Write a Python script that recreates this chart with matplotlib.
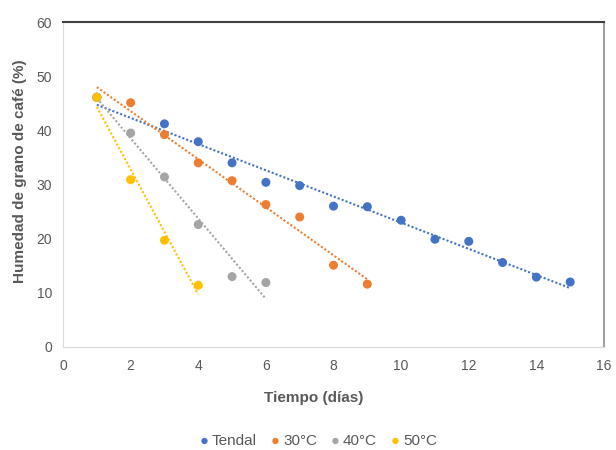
import numpy as np
import matplotlib
matplotlib.use('Agg')
import matplotlib.pyplot as plt

plt.rcParams['font.family'] = ['Liberation Sans', 'DejaVu Sans']

# Datos
dias_tendal = [1, 3, 4, 5, 6, 7, 8, 9, 10, 11, 12, 13, 14, 15]
hum_tendal = [46.1, 41.2, 37.9, 34.0, 30.4, 29.8, 26.0, 25.9, 23.4, 19.9, 19.5, 15.6, 12.9, 12.0]

dias_30 = [1, 2, 3, 4, 5, 6, 7, 8, 9]
hum_30 = [46.1, 45.1, 39.2, 34.0, 30.7, 26.3, 24.0, 15.1, 11.6]

dias_40 = [1, 2, 3, 4, 5, 6]
hum_40 = [46.1, 39.5, 31.4, 22.6, 13.0, 11.9]

dias_50 = [1, 2, 3, 4]
hum_50 = [46.1, 30.9, 19.7, 11.4]

series = [
    ('Tendal', dias_tendal, hum_tendal, '#4472C4'),
    ('30°C', dias_30, hum_30, '#ED7D31'),
    ('40°C', dias_40, hum_40, '#A5A5A5'),
    ('50°C', dias_50, hum_50, '#FFC000'),
]

fig = plt.figure(figsize=(6.16, 4.5), dpi=100)
ax = fig.add_axes([0.1023, 0.2289, 0.8782, 0.7222])

# Lineas de tendencia (ajuste lineal, como en Excel)
for nombre, x, y, color in series:
    m, b = np.polyfit(x, y, 1)
    xx = np.array([x[0], x[-1]])
    ax.plot(xx, m * xx + b, linestyle=(0, (1, 1)), color=color, linewidth=1.5, zorder=2)

# Puntos (de atras hacia adelante: tendal primero, 50 encima)
for nombre, x, y, color in series:
    ax.scatter(x, y, s=42, color=color, label=nombre, zorder=3, edgecolors='none')

ax.set_xlim(0, 16)
ax.set_ylim(0, 60)
ax.set_xticks(range(0, 17, 2))
ax.set_yticks(range(0, 61, 10))
ax.tick_params(length=0, labelsize=10, colors='#595959')
ax.tick_params(axis='x', pad=9)
ax.tick_params(axis='y', pad=8)

ax.set_xlabel('Tiempo (días)', fontsize=11, fontweight='bold', color='#595959')
ax.xaxis.set_label_coords(0.464, -0.135)
ax.set_ylabel('Humedad de grano de café (%)', fontsize=11, fontweight='bold', color='#595959')
ax.yaxis.set_label_coords(-0.066, 0.54)

ax.spines['left'].set_color('#D9D9D9')
ax.spines['bottom'].set_color('#D9D9D9')
ax.spines['top'].set_color('#404040')
ax.spines['top'].set_linewidth(1.5)
ax.spines['right'].set_color('#A0A0A0')
ax.spines['right'].set_linewidth(1.5)

fig.legend(loc='center', bbox_to_anchor=(0.517, 0.02), ncol=4, frameon=False,
           fontsize=11, handlelength=0.6, handletextpad=0.2, columnspacing=0.9,
           markerscale=0.7, labelcolor='#595959')

fig.savefig('out.png', dpi=100)
